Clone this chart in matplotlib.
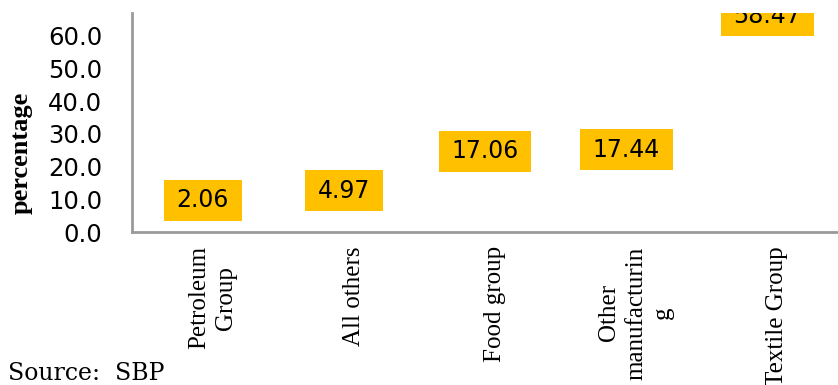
import matplotlib
matplotlib.use("Agg")
import matplotlib.pyplot as plt

categories = ["Petroleum\nGroup", "All others", "Food group", "Other\nmanufacturin\ng", "Textile Group"]
values = [2.06, 4.97, 17.06, 17.44, 58.47]
yticks = [0, 10, 20, 30, 40, 50, 60]

fig = plt.figure(figsize=(8.38, 3.85), dpi=100)
ax = fig.add_axes([132 / 838, 1 - 232 / 385, 1 - 132 / 838, (232 - 12.7) / 385])

x = list(range(len(categories)))
ax.bar(x, values, width=0.6, color="white", edgecolor="none")

ax.set_xlim(-0.5, len(categories) - 0.5)
ax.set_ylim(0, 67)
ax.set_yticks(yticks)
ax.set_yticklabels([f"{t:.1f}" for t in yticks], fontsize=17.5, family="DejaVu Sans")
ax.tick_params(axis="y", length=0, pad=21.5)
ax.set_xticks(x)
ax.set_xticklabels([])
ax.tick_params(axis="x", length=0)

for side in ("top", "right"):
    ax.spines[side].set_visible(False)
for side in ("left", "bottom"):
    ax.spines[side].set_color("#9a9a9a")
    ax.spines[side].set_linewidth(2)

# value labels sit above each bar and are clipped by the plot area
for xi, v in zip(x, values):
    ax.annotate(f"{v:.2f}", xy=(xi, v), xytext=(0, 18), textcoords="offset points",
                ha="center", va="center", fontsize=17, family="DejaVu Sans",
                bbox=dict(boxstyle="square,pad=0.54", facecolor="#FFC000",
                          edgecolor="none", mutation_aspect=0.67),
                annotation_clip=False, clip_on=True)

for xi, lab in zip(x, categories):
    ax.text(xi + 0.07, -0.065, lab, transform=ax.get_xaxis_transform(), rotation=90,
            ha="center", va="top", multialignment="center",
            fontsize=18, family="Liberation Serif", linespacing=1.3)

ax.set_ylabel("percentage", fontsize=19, family="Liberation Serif", fontweight="bold")
ax.yaxis.set_label_coords((33 - 132) / 706, (232 - 153) / (232 - 12.7))

fig.text(8 / 838, 1 - 373 / 385, "Source:  SBP", fontsize=17, family="DejaVu Serif",
         ha="left", va="center")

fig.savefig("out.png", dpi=100)
